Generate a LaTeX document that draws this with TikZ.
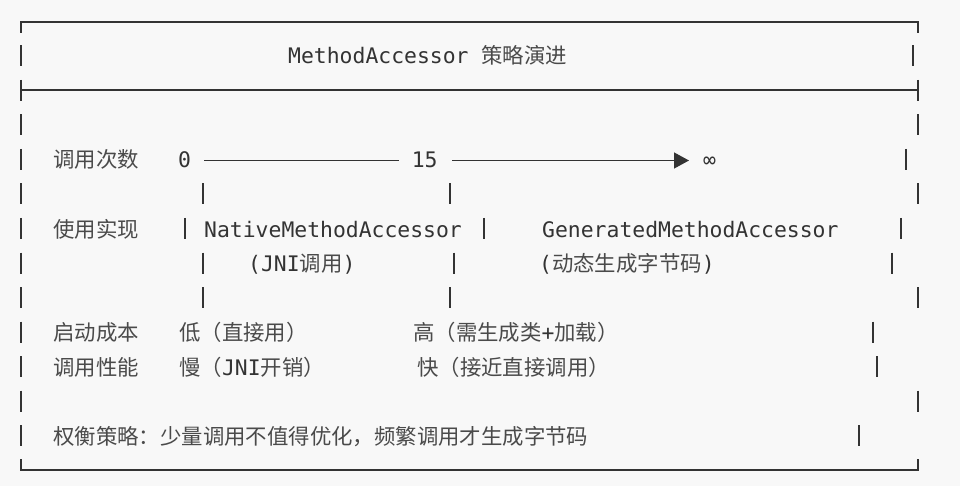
\documentclass[tikz,border=0pt]{standalone}
\usepackage{fontspec}
\setmainfont{DejaVu Sans Mono}
\newfontfamily\cjkf{Noto Sans CJK SC}
\usetikzlibrary{arrows.meta}
\definecolor{bg}{HTML}{F8F8F8}
\definecolor{ink}{HTML}{333333}
\definecolor{cjkink}{HTML}{4A4A4A}
\newcommand{\C}[1]{{\cjkf\color{cjkink}#1}}
\begin{document}
\begin{tikzpicture}[x=1pt,y=-1pt,
  txt/.style={anchor=base west, inner sep=0pt, text=ink, font=\fontsize{21.4}{25}\selectfont},
  num/.style={txt, text height=15pt, text depth=0pt},
  frame/.style={draw=ink, line width=1.3pt},
  axis/.style={draw=ink, line width=1.3pt}]
\fill[bg] (0,0) rectangle (960,486);
\useasboundingbox (0,0) rectangle (960,486);
% frame
\draw[frame] (21,33) -- (21,22) -- (918,22) -- (918,33);
\draw[frame] (21,90) -- (918,90);
\draw[frame] (21,459) -- (21,470) -- (918,470) -- (918,459);
\foreach \r in {1,...,12} \draw[frame] (21,{22+34.5*\r-11}) -- (21,{22+34.5*\r+10});
\foreach \x/\r in {913/1,918/2,918/3,906/4,918/5,901/6,892/7,918/8,873/9,877/10,918/11,859/12}
  \draw[frame] (\x,{22+34.5*\r-11}) -- (\x,{22+34.5*\r+10});
\foreach \x/\r in {203/5,450/5,185/6,484/6,203/7,454/7,203/8,450/8}
  \draw[frame] (\x,{22+34.5*\r-11}) -- (\x,{22+34.5*\r+10});
% title
\node[txt] (title) at (288,64) {MethodAccessor \C{策略演进}};
% row: calls
\node[txt] (lcalls) at (53,168) {\C{调用次数}};
\node[num] (n0) at (178,168) {0};
\node[num] (n15) at (411.6,168) {15};
\node[num] (ninf) at (703,168) {∞};
\draw[axis, shorten <=13pt, shorten >=12.6pt] (n0.east) -- (n15.west);
\draw[axis, -{Triangle[length=15pt,width=16pt]}, shorten <=14.6pt, shorten >=14pt] (n15.east) -- (ninf.west);
% row: implementation
\node[txt] (limpl) at (53,237) {\C{使用实现}};
\node[txt] (native) at (204,237) {NativeMethodAccessor};
\node[txt] (gen) at (542,237) {GeneratedMethodAccessor};
\node[txt] (jni) at (248,271.5) {(JNI\C{调用})};
\node[txt] (dyn) at (539,271.5) {(\C{动态生成字节码})};
% row: startup cost
\node[txt] (lcost) at (53,340.5) {\C{启动成本}};
\node[txt] (low) at (179,340.5) {\C{低（直接用）}};
\node[txt] (high) at (413,340.5) {\C{高（需生成类}+\C{加载）}};
% row: performance
\node[txt] (lperf) at (53,375) {\C{调用性能}};
\node[txt] (slow) at (179,375) {\C{慢（}JNI\C{开销）}};
\node[txt] (fast) at (417,375) {\C{快（接近直接调用）}};
% note
\node[txt] (note) at (53,444) {\C{权衡策略：少量调用不值得优化，频繁调用才生成字节码}};
\end{tikzpicture}
\end{document}
